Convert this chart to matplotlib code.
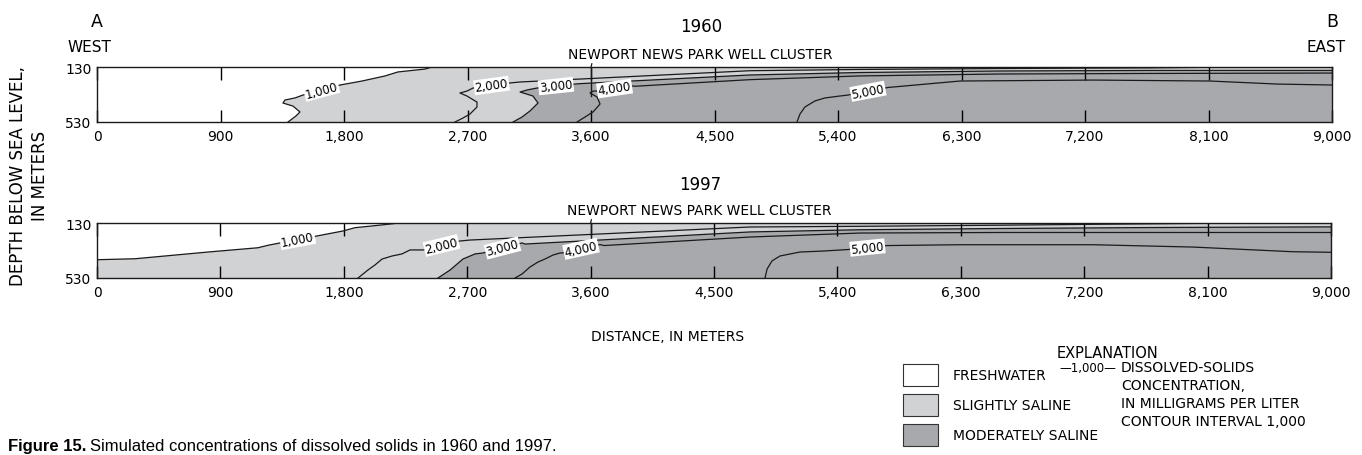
import numpy as np
import matplotlib
matplotlib.use("Agg")
import matplotlib.pyplot as plt
from matplotlib.patches import Polygon, Rectangle

plt.rcParams['font.family'] = ['DejaVu Sans']

years = ["1960", "1997"]
levels = [1000, 2000, 3000, 4000, 5000]
dist_ticks = [0, 900, 1800, 2700, 3600, 4500, 5400, 6300, 7200, 8100, 9000]
depth_ticks = [130, 530]
well_x = 3600
well_bottom = [341, 319]

# contour lines: distance (m), depth (m)
x60_1000 = [1392, 1450, 1479, 1428, 1355, 1370, 1443, 1501, 1771, 1931, 2099, 2193, 2390, 2441]
d60_1000 = [530, 486, 457, 414, 392, 370, 355, 334, 261, 232, 195, 166, 145, 130]
x60_2000 = [2609, 2667, 2718, 2769, 2769, 2696, 2645, 2696, 2740, 3010, 3083, 4759, 5560, 6580, 7673, 8329]
d60_2000 = [530, 501, 472, 421, 385, 341, 319, 305, 283, 246, 239, 157, 148, 141, 136, 130]
x60_3000 = [3032, 3097, 3155, 3214, 3177, 3083, 3134, 3206, 3483, 3520, 4759, 5560, 6580, 7674, 9000]
d60_3000 = [530, 494, 450, 392, 341, 312, 297, 283, 254, 251, 188, 170, 159, 155, 155]
x60_4000 = [3498, 3556, 3615, 3666, 3644, 3593, 3615, 3644, 3899, 3921, 4759, 5560, 6580, 7674, 9000]
d60_4000 = [530, 494, 457, 399, 348, 319, 305, 305, 268, 270, 222, 195, 181, 177, 174]
x60_5000 = [5101, 5123, 5159, 5232, 5305, 5414, 5473, 5764, 6289, 7258, 8111, 8599, 9000]
d60_5000 = [530, 472, 421, 377, 355, 341, 334, 279, 232, 225, 232, 254, 261]

x97_1000 = [0, 277, 810, 1174, 1247, 1335, 1590, 1794, 1882, 2049, 2159, 2195]
d97_1000 = [397, 390, 341, 310, 292, 275, 227, 188, 164, 147, 135, 130]
x97_2000 = [1904, 1976, 2028, 2079, 2152, 2224, 2283, 2356, 2378, 2647, 2720, 4763, 5565, 6586, 7315, 8118, 8330]
d97_2000 = [530, 472, 435, 392, 370, 355, 326, 326, 326, 261, 254, 159, 154, 146, 139, 132, 130]
x97_3000 = [2487, 2575, 2669, 2757, 2815, 3100, 3122, 4763, 5565, 6586, 7680, 9000]
d97_3000 = [530, 472, 392, 355, 348, 275, 283, 195, 179, 170, 163, 158]
x97_4000 = [3049, 3100, 3158, 3216, 3267, 3326, 3377, 3391, 3669, 3698, 4763, 5565, 6586, 9000]
d97_4000 = [530, 501, 450, 414, 392, 363, 348, 348, 287, 294, 232, 203, 199, 199]
x97_5000 = [4872, 4887, 4923, 4981, 5127, 5295, 5477, 5762, 6294, 7264, 7994, 8723, 9000]
d97_5000 = [530, 465, 406, 370, 341, 334, 323, 294, 288, 288, 305, 339, 343]

lines60 = [(x60_1000, d60_1000), (x60_2000, d60_2000), (x60_3000, d60_3000),
           (x60_4000, d60_4000), (x60_5000, d60_5000)]
lines97 = [(x97_1000, d97_1000), (x97_2000, d97_2000), (x97_3000, d97_3000),
           (x97_4000, d97_4000), (x97_5000, d97_5000)]
# index of the segment that carries the label
label_seg60 = [7, 8, 7, 7, 6]
label_seg97 = [5, 8, 4, 7, 6]

fresh_c = 'white'
slight_c = '#d1d2d4'
moder_c = '#a7a9ac'

W, H = 1362, 456
fig = plt.figure(figsize=(W / 100, H / 100), dpi=100)


def fx(px):
    return px / W


def fy(py):
    return 1 - py / H


def right_side(xs, ds):
    pts = list(zip(xs, ds))
    if ds[-1] == 130:
        pts.append((9000, 130))
    pts.append((9000, 530))
    if xs[0] == 0:
        pts.append((0, 530))
    return pts


def draw_panel(ax, lines, segs, wb):
    ax.set_xlim(0, 9000)
    ax.set_ylim(530, 130)
    ax.set_facecolor(fresh_c)
    ax.add_patch(Polygon(right_side(*lines[0]), closed=True, fc=slight_c, ec='none', zorder=1))
    ax.add_patch(Polygon(right_side(*lines[2]), closed=True, fc=moder_c, ec='none', zorder=1.5))
    for (xs, ds), lev, i in zip(lines, levels, segs):
        ax.plot(xs, ds, color='#1a1a1a', lw=0.9, zorder=3)
        p1 = ax.transData.transform((xs[i], ds[i]))
        p2 = ax.transData.transform((xs[i + 1], ds[i + 1]))
        ang = np.degrees(np.arctan2(p2[1] - p1[1], p2[0] - p1[0]))
        ax.text((xs[i] + xs[i + 1]) / 2, (ds[i] + ds[i + 1]) / 2, f"{lev:,}",
                fontsize=8.5, rotation=ang, rotation_mode='anchor',
                ha='center', va='center', zorder=5,
                bbox=dict(boxstyle='square,pad=0.08', fc='white', ec='none'))
    ax.plot([well_x, well_x], [130, wb], color='#1a1a1a', lw=1.0, zorder=4)
    ax.annotate("NEWPORT NEWS PARK WELL CLUSTER", xy=(well_x, 130), xytext=(4394, 85),
                ha='center', va='bottom', fontsize=10, annotation_clip=False,
                arrowprops=dict(arrowstyle='-', lw=0.9, color='#1a1a1a',
                                shrinkA=0, shrinkB=0, relpos=(0.094, 0)))
    ax.set_xticks(dist_ticks)
    ax.set_xticklabels([f"{t:,}" for t in dist_ticks])
    ax.set_yticks(depth_ticks)
    ax.tick_params(axis='x', direction='in', top=True, length=9, width=1,
                   pad=5, labelsize=10)
    ax.tick_params(axis='y', length=0, pad=4, labelsize=10)
    t = ax.xaxis.get_major_ticks()[1]
    t.tick1line.set_color('0.6')
    t.tick2line.set_color('0.6')
    for s in ax.spines.values():
        s.set_linewidth(1.0)
        s.set_color('#1a1a1a')
        s.set_zorder(6)


ax1 = fig.add_axes([fx(97), fy(123), fx(1332) - fx(97), fy(68) - fy(123)])
ax2 = fig.add_axes([fx(97), fy(279), fx(1331) - fx(97), fy(224) - fy(279)])
draw_panel(ax1, lines60, label_seg60, well_bottom[0])
draw_panel(ax2, lines97, label_seg97, well_bottom[1])

fig.text(fx(701), fy(27), years[0], ha='center', va='center', fontsize=12)
fig.text(fx(700), fy(185), years[1], ha='center', va='center', fontsize=12)
fig.text(fx(97), fy(22), "A", ha='center', va='center', fontsize=12.5)
fig.text(fx(89), fy(48), "WEST", ha='center', va='center', fontsize=11)
fig.text(fx(1332), fy(22), "B", ha='center', va='center', fontsize=12.5)
fig.text(fx(1326), fy(48), "EAST", ha='center', va='center', fontsize=11)

fig.text(fx(29), fy(176), "DEPTH BELOW SEA LEVEL,\nIN METERS", rotation=90,
         ha='center', va='center', ma='center', fontsize=12, linespacing=1.25)
fig.text(fx(668), fy(337), "DISTANCE, IN METERS", ha='center', va='center', fontsize=10)

# explanation
fig.text(fx(1108), fy(354), "EXPLANATION", ha='center', va='center', fontsize=10.5)
legend_items = [("FRESHWATER", fresh_c), ("SLIGHTLY SALINE", slight_c),
                ("MODERATELY SALINE", moder_c)]
for k, (name, col) in enumerate(legend_items):
    yc = 376 + 30 * k
    fig.patches.append(Rectangle((fx(903), fy(yc + 11)), fx(938) - fx(903),
                                 fy(yc - 11) - fy(yc + 11), fc=col, ec='#333333',
                                 lw=0.8, transform=fig.transFigure))
    fig.text(fx(953), fy(yc), name, ha='left', va='center', fontsize=10)

fig.text(fx(1088), fy(369), "\u20141,000\u2014", ha='center', va='center', fontsize=8.5)
fig.text(fx(1121), fy(361), "DISSOLVED-SOLIDS\nCONCENTRATION,\nIN MILLIGRAMS PER LITER\nCONTOUR INTERVAL 1,000",
         ha='left', va='top', fontsize=10, linespacing=1.35)

cap1 = fig.text(fx(8), fy(447), "Figure 15.", ha='left', va='center', fontsize=12,
                fontweight='bold', family=['Liberation Sans', 'DejaVu Sans'])
fig.canvas.draw()
bb = cap1.get_window_extent()
fig.text(bb.x1 / W + fx(4), fy(447), "Simulated concentrations of dissolved solids in 1960 and 1997.",
         ha='left', va='center', fontsize=12, family=['Liberation Sans', 'DejaVu Sans'])

fig.savefig("out.png", dpi=100)
